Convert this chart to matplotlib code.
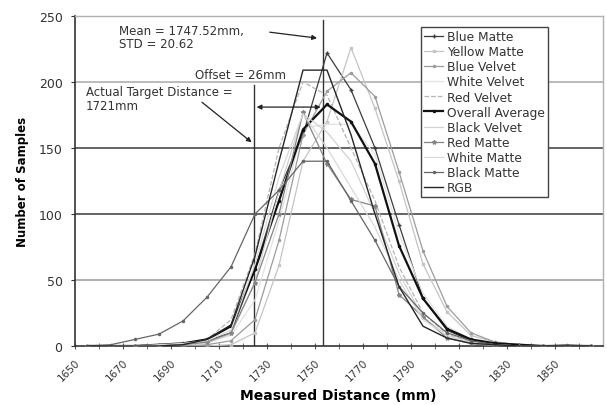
import matplotlib
matplotlib.use("Agg")
import matplotlib.pyplot as plt

# bin centres (mm), 10 mm bins from 1650 to 1870
bins = [1655, 1665, 1675, 1685, 1695, 1705, 1715, 1725, 1735, 1745, 1755,
        1765, 1775, 1785, 1795, 1805, 1815, 1825, 1835, 1845, 1855, 1865]

blue_matte   = [0, 0, 0, 0, 1, 4, 10, 58, 118, 160, 222, 194, 150, 92, 36, 12, 4, 1, 0, 0, 0, 0]
yellow_matte = [0, 0, 0, 0, 0, 0, 1, 10, 61, 140, 170, 226, 180, 125, 62, 26, 8, 3, 1, 0, 0, 0]
blue_velvet  = [0, 0, 0, 0, 0, 1, 4, 20, 80, 160, 193, 207, 189, 132, 72, 30, 10, 3, 1, 0, 0, 0]
white_velvet = [0, 0, 0, 0, 1, 3, 8, 35, 95, 165, 168, 168, 145, 85, 40, 15, 5, 1, 0, 0, 0, 0]
red_velvet   = [0, 0, 0, 1, 2, 5, 20, 70, 150, 200, 190, 150, 110, 60, 25, 9, 3, 1, 0, 0, 0, 0]
overall_avg  = [0, 0, 0, 1, 2, 5, 15, 58, 110, 164, 183, 170, 138, 76, 36, 13, 5, 2, 1, 0, 0, 0]
black_velvet = [0, 0, 0, 0, 1, 2, 9, 49, 117, 176, 162, 140, 100, 55, 22, 8, 3, 1, 0, 0, 0, 0]
red_matte    = [0, 0, 0, 0, 1, 3, 10, 48, 100, 177, 138, 111, 106, 39, 22, 6, 2, 0, 0, 0, 0, 0]
white_matte  = [1, 0, 0, 1, 2, 4, 12, 62, 128, 176, 150, 120, 90, 50, 20, 8, 2, 1, 0, 0, 0, 0]
black_matte  = [0, 1, 5, 9, 19, 37, 60, 100, 118, 140, 140, 110, 80, 45, 25, 10, 4, 1, 0, 0, 1, 0]
rgb          = [0, 0, 0, 0, 1, 5, 16, 68, 140, 209, 209, 160, 100, 45, 15, 6, 2, 1, 0, 0, 0, 0]

x_ticklabels = ["1650", "1670", "1690", "1710", "1730", "1750", "1770", "1790", "1810", "1830", "1850"]

TARGET_MM = 1721
MEAN_MM = 1747.52
STD_MM = 20.62
OFFSET_MM = 26
# where the hand-placed marker lines sit on the axis
target_line_x = 1724.5
mean_line_x = 1753.5

plt.rcParams["font.family"] = ["DejaVu Sans"]

fig = plt.figure(figsize=(6.07, 4.06), dpi=100, facecolor="white")
ax = fig.add_axes([0.1236, 0.1453, 0.8698, 0.8128])

series = [
    ("Blue Matte",      blue_matte,   dict(color="#3c3c3c", lw=0.9, marker="+", ms=3)),
    ("Yellow Matte",    yellow_matte, dict(color="#c4c4c4", lw=0.9, marker="s", ms=2, mfc="none")),
    ("Blue Velvet",     blue_velvet,  dict(color="#9c9c9c", lw=0.9, marker=".", ms=3)),
    ("White Velvet",    white_velvet, dict(color="#e2e2e2", lw=0.9)),
    ("Red Velvet",      red_velvet,   dict(color="#b4b4b4", lw=0.9, ls="--")),
    ("Overall Average", overall_avg,  dict(color="#111111", lw=1.6, marker=".", ms=3)),
    ("Black Velvet",    black_velvet, dict(color="#d2d2d2", lw=0.9)),
    ("Red Matte",       red_matte,    dict(color="#858585", lw=0.9, marker="*", ms=3)),
    ("White Matte",     white_matte,  dict(color="#d8d8d8", lw=0.9)),
    ("Black Matte",     black_matte,  dict(color="#666666", lw=0.9, marker=".", ms=3)),
    ("RGB",             rgb,          dict(color="#262626", lw=1.0)),
]

for name, vals, style in series:
    ax.plot(bins, vals, label=name, zorder=3, **style)

ax.set_xlim(1650, 1870)
ax.set_ylim(0, 250)

# horizontal gridlines, darker in the middle band
for yv, col in [(50, "#9a9a9a"), (100, "#3a3a3a"), (150, "#3a3a3a"), (200, "#a8a8a8")]:
    ax.axhline(yv, color=col, lw=1.1, zorder=1)

for side in ("top", "right"):
    ax.spines[side].set_color("#b0b0b0")
    ax.spines[side].set_linewidth(1.0)
for side in ("left", "bottom"):
    ax.spines[side].set_color("#333333")
    ax.spines[side].set_linewidth(1.2)

ax.set_yticks([0, 50, 100, 150, 200, 250])
ax.tick_params(axis="y", labelsize=9, colors="#333333", length=3, pad=6)
ax.set_xticks(range(1650, 1851, 20))
ax.set_xticklabels(x_ticklabels, rotation=45, ha="right", va="top", rotation_mode="anchor")
ax.set_xticks(range(1660, 1871, 20), minor=True)
ax.tick_params(axis="x", which="both", direction="inout", length=4, colors="#555555",
               labelsize=7.5, labelcolor="#333333", pad=6)

ax.set_ylabel("Number of Samples", fontsize=8.5, fontweight="bold", labelpad=7)
fig.text(0.557, 1 - 396 / 406, "Measured Distance (mm)", fontsize=10, fontweight="bold",
         ha="center", va="center")

# target and mean marker lines
ax.plot([target_line_x, target_line_x], [0, 198], color="#333333", lw=1.0, zorder=2)
ax.plot([mean_line_x, mean_line_x], [0, 247], color="#333333", lw=1.0, zorder=2)

arrow = dict(arrowstyle="-|>", color="#222222", lw=0.9, mutation_scale=7)
ax.annotate("", xy=(1752, 233), xytext=(1730, 238), arrowprops=arrow)
ax.annotate("", xy=(target_line_x, 153), xytext=(1702, 186), arrowprops=arrow)
ax.annotate("", xy=(target_line_x, 181), xytext=(mean_line_x, 181),
            arrowprops=dict(arrowstyle="<|-|>", color="#222222", lw=0.9, mutation_scale=7))

ax.text(1668.5, 244, f"Mean = {MEAN_MM}mm,\nSTD = {STD_MM}", fontsize=8.5, color="#333333",
        va="top", ha="left", linespacing=1.05)
ax.text(1700, 206, f"Offset = {OFFSET_MM}mm", fontsize=8.5, color="#333333", va="center", ha="left")
ax.text(1654.5, 197.5, f"Actual Target Distance =\n{TARGET_MM}mm", fontsize=8.5, color="#333333",
        va="top", ha="left", linespacing=1.05)

leg = ax.legend(loc="upper left", bbox_to_anchor=(0.655, 0.967), fontsize=8.8,
                frameon=True, fancybox=False, edgecolor="#444444", framealpha=1,
                handlelength=1.6, handletextpad=0.3, labelspacing=0.175, borderpad=0.25,
                borderaxespad=0.0)
leg.get_frame().set_linewidth(1.0)
for t in leg.get_texts():
    t.set_color("#333333")

fig.savefig("out.png", dpi=100, facecolor="white")
